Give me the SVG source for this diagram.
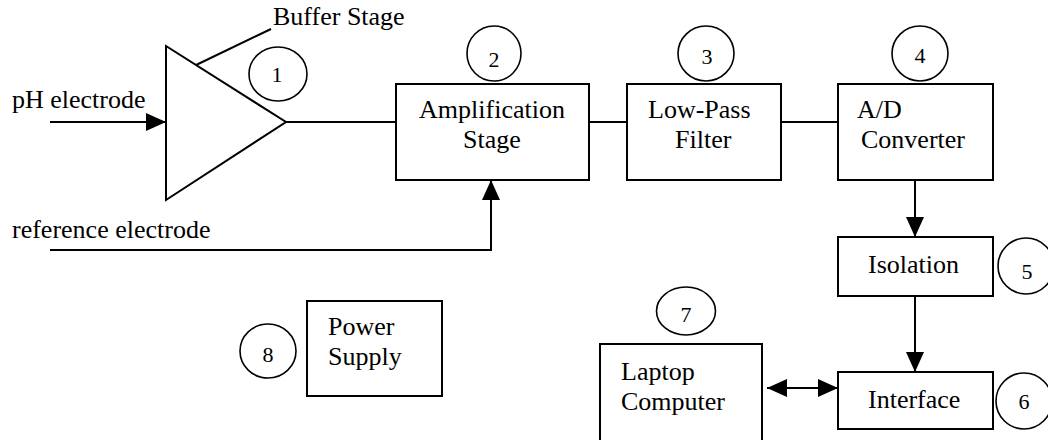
<svg xmlns="http://www.w3.org/2000/svg" width="1048" height="440" viewBox="0 0 1048 440" font-family="Liberation Serif, Times New Roman, serif">
<style>
.box{fill:#fff;stroke:#000;stroke-width:2}
.circ{fill:none;stroke:#000;stroke-width:1.6}
.ln{fill:none;stroke:#000;stroke-width:2}
.t{font-size:26px;fill:#000}
.n{font-size:22px;text-anchor:middle;fill:#000}
</style>
<defs>
<marker id="ah" viewBox="0 0 20 18" refX="20" refY="9" markerWidth="20" markerHeight="18" markerUnits="userSpaceOnUse" orient="auto-start-reverse">
<path d="M0,0 L20,9 L0,18 z" fill="#000"/>
</marker>
</defs>
<rect width="1048" height="440" fill="#fff"/>
<g id="connectors">
<line class="ln" x1="50" y1="122" x2="166" y2="122" marker-end="url(#ah)"/>
<line class="ln" x1="286" y1="122" x2="396" y2="122"/>
<line class="ln" x1="589" y1="122" x2="627" y2="122"/>
<line class="ln" x1="781" y1="122" x2="838" y2="122"/>
<polyline class="ln" points="50,250 491,250 491,180" marker-end="url(#ah)"/>
<line class="ln" x1="915" y1="180" x2="915" y2="237" marker-end="url(#ah)"/>
<line class="ln" x1="915" y1="296" x2="915" y2="372" marker-end="url(#ah)"/>
<line class="ln" x1="767" y1="388" x2="838" y2="388" marker-start="url(#ah)" marker-end="url(#ah)"/>
<line class="ln" x1="194" y1="66" x2="271" y2="29"/>
</g>
<g id="buffer">
<polygon class="box" points="166,46 166,200 286,122"/>
<text class="t" x="273" y="25">Buffer Stage</text>
<text class="t" x="12" y="108">pH electrode</text>
<text class="t" x="12" y="238">reference electrode</text>
</g>
<g id="c1"><ellipse class="circ" cx="278" cy="74" rx="29" ry="27"/><text class="n" x="277" y="82" font-size="20">1</text></g>
<g id="amp"><rect class="box" x="396" y="84" width="193" height="96"/>
<text class="t" x="492" y="118" text-anchor="middle">Amplification</text>
<text class="t" x="492" y="148" text-anchor="middle">Stage</text></g>
<g id="c2"><ellipse class="circ" cx="494" cy="53.5" rx="27" ry="27.5"/><text class="n" x="494" y="67">2</text></g>
<g id="lpf"><rect class="box" x="627" y="84" width="154" height="96"/>
<text class="t" x="648" y="118">Low-Pass</text>
<text class="t" x="675" y="148">Filter</text></g>
<g id="c3"><ellipse class="circ" cx="706" cy="53.5" rx="28" ry="27.5"/><text class="n" x="707" y="64">3</text></g>
<g id="adc"><rect class="box" x="838" y="84" width="155" height="96"/>
<text class="t" x="857" y="118">A/D</text>
<text class="t" x="861" y="148">Converter</text></g>
<g id="c4"><ellipse class="circ" cx="920" cy="53.5" rx="28" ry="27.5"/><text class="n" x="920" y="63">4</text></g>
<g id="iso"><rect class="box" x="838" y="237" width="155" height="59"/>
<text class="t" x="868" y="273">Isolation</text></g>
<g id="c5"><ellipse class="circ" cx="1026" cy="266" rx="28" ry="28"/><text class="n" x="1027" y="279">5</text></g>
<g id="iface"><rect class="box" x="838" y="372" width="155" height="57"/>
<text class="t" x="868" y="408">Interface</text></g>
<g id="c6"><ellipse class="circ" cx="1024" cy="401" rx="28" ry="28"/><text class="n" x="1024" y="409">6</text></g>
<g id="laptop"><rect class="box" x="600" y="344" width="162" height="110"/>
<text class="t" x="621" y="380">Laptop</text>
<text class="t" x="621" y="410">Computer</text></g>
<g id="c7"><ellipse class="circ" cx="686" cy="311" rx="29.5" ry="24"/><text class="n" x="686" y="322">7</text></g>
<g id="power"><rect class="box" x="307" y="301" width="135" height="95"/>
<text class="t" x="328" y="335">Power</text>
<text class="t" x="328" y="365">Supply</text></g>
<g id="c8"><ellipse class="circ" cx="268" cy="351" rx="28" ry="27"/><text class="n" x="268" y="362">8</text></g>
</svg>
